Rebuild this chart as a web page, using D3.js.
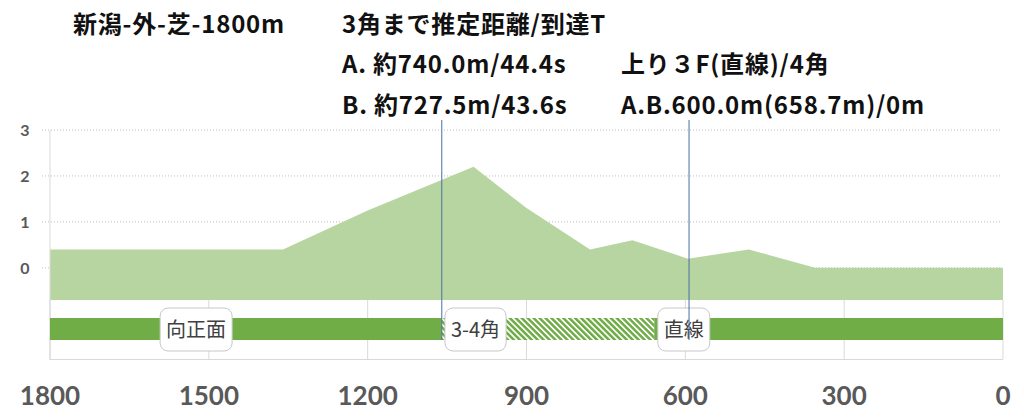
<!DOCTYPE html>
<html><head><meta charset="utf-8">
<script src="https://cdn.jsdelivr.net/npm/d3@7"></script>
<style>
html,body{margin:0;padding:0;background:#fff;}
svg{display:block;}
</style></head>
<body>
<script>
// ---- data ----
const courseTitle = "新潟-外-芝-1800m";
const infoLines1 = ["3角まで推定距離/到達T", "A. 約740.0m/44.4s", "B. 約727.5m/43.6s"];
const infoLines2 = ["上り３F(直線)/4角", "A.B.600.0m(658.7m)/0m"];
const elevDist = [1800, 1360, 1200, 1000, 900, 780, 700, 595, 480, 355, 0];
const elevVal  = [0.4, 0.4, 1.25, 2.2, 1.3, 0.4, 0.6, 0.2, 0.4, 0.0, 0.0];
const yTicks = [0, 1, 2, 3];
const xTicks = [1800, 1500, 1200, 900, 600, 300, 0];
const segNames = ["向正面", "3-4角", "直線"];
const segStart = [1800, 1060, 658.7];
const segEnd = [1060, 658.7, 0];
const segHatched = [false, true, false];
const segLabelAt = [1592, 1054, 652];
const markerDist = [1060, 593];

// ---- layout ----
const W = 1024, H = 418;
const svg = d3.select("body").append("svg").attr("width", W).attr("height", H);
const x = d3.scaleLinear().domain([1800, 0]).range([50, 1003]);
const y = d3.scaleLinear().domain([-0.7, 3]).range([300, 130]);
const green = "#70AD47", light = "#B6D5A0", grid = "#D9D9D9", axisText = "#595959";

const defs = svg.append("defs");
const pat = defs.append("pattern").attr("id", "hatch").attr("patternUnits", "userSpaceOnUse")
  .attr("width", 4.2).attr("height", 4.2).attr("patternTransform", "rotate(-45)");
pat.append("rect").attr("width", 4.2).attr("height", 4.2).attr("fill", "#fff");
pat.append("rect").attr("width", 2.5).attr("height", 4.2).attr("fill", green);

// gridlines
svg.append("g").selectAll("line").data(yTicks).join("line")
  .attr("x1", 42).attr("x2", x(0) - 1).attr("y1", d => y(d)).attr("y2", d => y(d))
  .attr("stroke", "#BFBFBF").attr("stroke-width", 1).attr("stroke-dasharray", "1,2");

// area
const area = d3.area().x((d, i) => x(elevDist[i])).y0(y(-0.7)).y1((d) => y(d));
svg.append("path").datum(elevVal).attr("d", area).attr("fill", light);

// left axis line top panel
svg.append("line").attr("x1", x(1800)).attr("x2", x(1800)).attr("y1", y(3)).attr("y2", 360)
  .attr("stroke", grid);

// y tick labels
svg.append("g").selectAll("text").data(yTicks).join("text")
  .attr("x", 25).attr("y", d => y(d)).attr("dy", "0.36em").attr("text-anchor", "middle")
  .attr("font-family", "Lato, 'Open Sans', sans-serif").attr("font-weight", "bold")
  .attr("font-size", 16).attr("fill", axisText).text(d => d);

// lower panel vertical gridlines
svg.append("g").selectAll("line").data(xTicks).join("line")
  .attr("x1", d => x(d)).attr("x2", d => x(d)).attr("y1", 300).attr("y2", 359)
  .attr("stroke", grid);
svg.append("line").attr("x1", x(1800)).attr("x2", x(0)).attr("y1", 359.5).attr("y2", 359.5)
  .attr("stroke", grid);

// segments
svg.append("g").selectAll("rect").data(segNames).join("rect")
  .attr("x", (d, i) => x(segStart[i])).attr("width", (d, i) => x(segEnd[i]) - x(segStart[i]))
  .attr("y", 318).attr("height", 22)
  .attr("fill", (d, i) => segHatched[i] ? "url(#hatch)" : green);

// labels
const lg = svg.append("g").selectAll("g").data(segNames).join("g");
lg.each(function (d, i) {
  const g = d3.select(this);
  const t = g.append("text").attr("font-family", "'Noto Sans CJK JP', sans-serif")
    .attr("font-size", 20).attr("fill", "#404040").text(d);
  const tw = t.node().getComputedTextLength();
  const bw = tw + 12, x0 = x(segLabelAt[i]);
  g.insert("rect", "text").attr("x", x0).attr("y", 308).attr("width", bw).attr("height", 43)
    .attr("rx", 8).attr("fill", "#fff").attr("stroke", "#C8C8C8").attr("stroke-width", 1);
  t.attr("x", x0 + bw / 2).attr("y", 329.5).attr("dy", "0.35em").attr("text-anchor", "middle");
});

// marker lines
svg.append("g").selectAll("line").data(markerDist).join("line")
  .attr("x1", d => x(d)).attr("x2", d => x(d)).attr("y1", 120).attr("y2", 340)
  .attr("stroke", "#4A6FA5").attr("stroke-width", 1);

// x tick labels
svg.append("g").selectAll("text").data(xTicks).join("text")
  .attr("x", d => x(d)).attr("y", 396).attr("dy", "0.36em").attr("text-anchor", "middle")
  .attr("font-family", "Lato, 'Open Sans', sans-serif").attr("font-weight", "bold")
  .attr("font-size", 26).attr("fill", axisText).text(d => d);

// titles
const tf = "'Noto Sans CJK JP', sans-serif";
function titleText(sel) {
  return sel.attr("font-family", tf).attr("font-weight", "bold").attr("font-size", 24)
    .attr("letter-spacing", 0.8).attr("fill", "#111");
}
titleText(svg.append("text").attr("x", 73).attr("y", 32.5).text(courseTitle));
titleText(svg.append("g").selectAll("text").data(infoLines1).join("text")
  .attr("x", 342).attr("y", (d, i) => 32.5 + i * 40.5).text(d => d));
titleText(svg.append("g").selectAll("text").data(infoLines2).join("text")
  .attr("x", 621).attr("y", (d, i) => 73 + i * 40.5).text(d => d));
</script>
</body></html>
